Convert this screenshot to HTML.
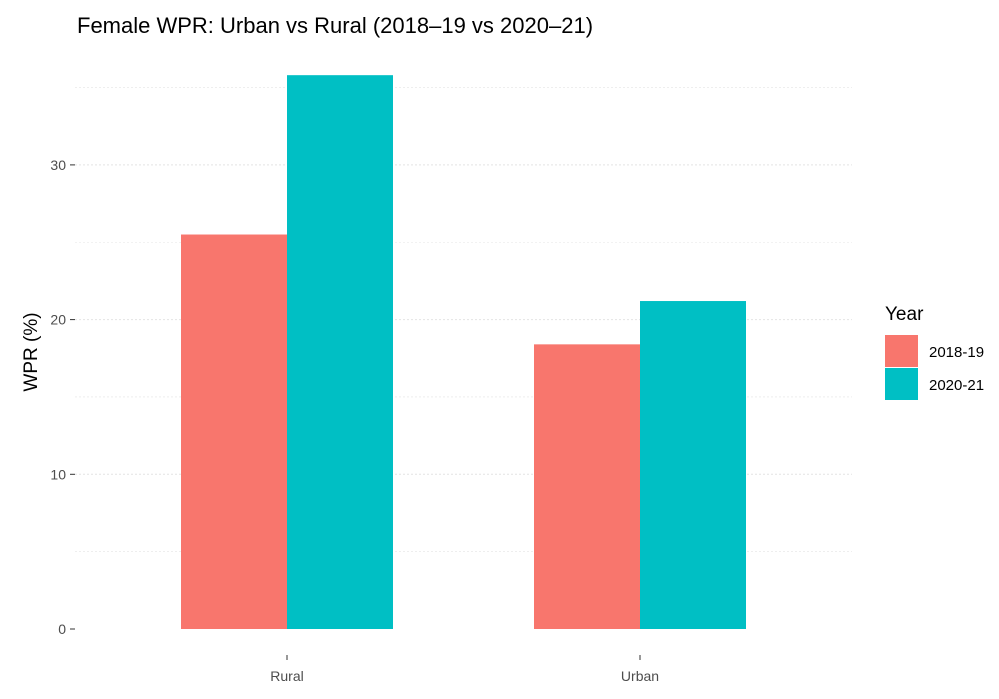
<!DOCTYPE html>
<html><head><meta charset="utf-8"><style>
body{margin:0;background:#fff;font-family:"Liberation Sans",sans-serif;}
</style></head><body>
<svg id="chart" width="999" height="694" xmlns="http://www.w3.org/2000/svg">
<text x="77" y="33" font-size="22" fill="#000">Female WPR: Urban vs Rural (2018–19 vs 2020–21)</text>
<text transform="translate(37,352) rotate(-90)" text-anchor="middle" font-size="19" fill="#000">WPR (%)</text>
<g id="grid"></g><g id="bars"></g><g id="axes"></g>
<text x="885" y="320" font-size="19" fill="#000">Year</text>
<g id="legend"></g>
</svg>
<script>
const categories=["Rural","Urban"];
const years=["2018-19","2020-21"];
const colors=["#F8766D","#00BFC4"];
const v2018=[25.5,18.4];
const v2020=[35.8,21.2];
const yTicks=[0,10,20,30];
const ns="http://www.w3.org/2000/svg";
const y=v=>629-v*15.47;
const xc=i=>287+i*353;
function mk(t,a,p){const e=document.createElementNS(ns,t);for(const k in a)e.setAttribute(k,a[k]);document.getElementById(p).appendChild(e);return e;}
for(let v=5;v<=35;v+=5){const g=mk("line",{x1:75,x2:852,y1:y(v),y2:y(v),stroke:"#e4e4e4","stroke-width":v%10?0.6:1,"stroke-dasharray":"2,2"},"grid");

}
const series=[v2018,v2020];
series.forEach((s,si)=>s.forEach((v,i)=>{const r=mk("rect",{x:xc(i)-106+si*106,y:y(v),width:106,height:y(0)-y(v),fill:colors[si]},"bars");

}));
yTicks.forEach(t=>{const l=mk("line",{x1:70,x2:75,y1:y(t),y2:y(t),stroke:"#333"},"axes");


const tx=mk("text",{x:66,y:y(t)+5,"text-anchor":"end","font-size":14,fill:"#4d4d4d"},"axes");tx.textContent=t;

});
categories.forEach((c,i)=>{const l=mk("line",{x1:xc(i),x2:xc(i),y1:655,y2:660,stroke:"#333"},"axes");


const tx=mk("text",{x:xc(i),y:681,"text-anchor":"middle","font-size":14,fill:"#4d4d4d"},"axes");tx.textContent=c;

});
years.forEach((yr,i)=>{const r=mk("rect",{x:885,y:335+i*33,width:33,height:32,fill:colors[i]},"legend");


const tx=mk("text",{x:929,y:357+i*33,"font-size":15,fill:"#000"},"legend");tx.textContent=yr;

});
</script>
</body></html>
